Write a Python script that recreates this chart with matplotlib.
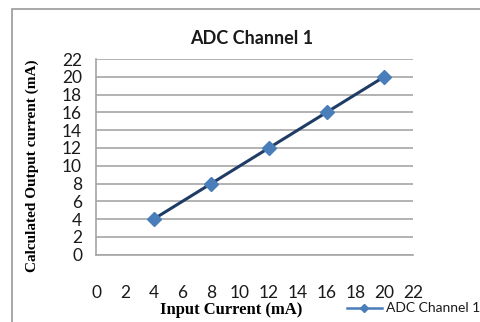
import matplotlib
matplotlib.use("Agg")
import matplotlib.pyplot as plt
from matplotlib.patches import Rectangle
from matplotlib.lines import Line2D

x_vals = [4, 8, 12, 16, 20]
y_vals = [4, 8, 12, 16, 20]
x_ticks = list(range(0, 23, 2))
y_ticks = list(range(0, 23, 2))
series_name = "ADC Channel 1"
title = "ADC Channel 1"

W, H = 481, 322
fig = plt.figure(figsize=(W/100, H/100), dpi=100)
fig.patch.set_facecolor("white")

# outer chart frame
fig.patches.append(Rectangle((12/W, -0.1), 1.2, (H-9)/H + 0.1, transform=fig.transFigure,
                             fill=False, edgecolor="#9a9a9a", linewidth=1.2))

ax = fig.add_axes([96/W, 1-254.7/H, (413-96)/W, (254.7-59)/H])
ax.set_xlim(0, 22)
ax.set_ylim(0, 22)
ax.set_yticks(y_ticks)
ax.set_xticks(x_ticks)
ax.grid(axis="y", color="#a6a6a6", linewidth=1.2)
ax.set_axisbelow(True)
for s in ["top", "right"]:
    ax.spines[s].set_visible(False)
ax.spines["left"].set_color("#a6a6a6")
ax.spines["bottom"].set_color("#a6a6a6")
ax.spines["left"].set_linewidth(1.2)
ax.spines["bottom"].set_linewidth(1.2)
ax.tick_params(axis="both", length=0, labelsize=12.5)
ax.tick_params(axis="x", pad=22)
ax.tick_params(axis="y", pad=10)
for lab in ax.get_xticklabels() + ax.get_yticklabels():
    lab.set_fontfamily("Lato")
    lab.set_color("#1a1a1a")

ax.plot(x_vals, y_vals, color="#1f3c66", linewidth=2.2, zorder=3)
ax.plot(x_vals, y_vals, linestyle="none", marker="D", markersize=7.5,
        color="#4a7ebb", markeredgecolor="#4a7ebb", zorder=4)

fig.text(252/W, 1-38/H, title, ha="center", va="center", fontsize=13,
         fontweight="bold", family="Lato", color="#1a1a1a")
fig.text(32/W, 1-166/H, "Calculated Output current (mA)", rotation=90, ha="center",
         va="center", fontsize=11, fontweight="bold", family="Liberation Serif")
fig.text(231/W, 1-310/H, "Input Current (mA)", ha="center", va="center", fontsize=12,
         fontweight="bold", family="Liberation Serif")

# legend
lx0, lx1, ly = 347/W, 382/W, 1-308/H
fig.lines.append(Line2D([lx0, lx1], [ly, ly], transform=fig.transFigure,
                        color="#4a7ebb", linewidth=1.8))
fig.lines.append(Line2D([(lx0+lx1)/2], [ly], transform=fig.transFigure,
                        marker="D", markersize=4.5, color="#4a7ebb", linestyle="none"))
fig.text(386/W, ly, series_name, ha="left", va="center", fontsize=10, family="Lato",
         color="#1a1a1a")

fig.savefig("out.png", dpi=100)
